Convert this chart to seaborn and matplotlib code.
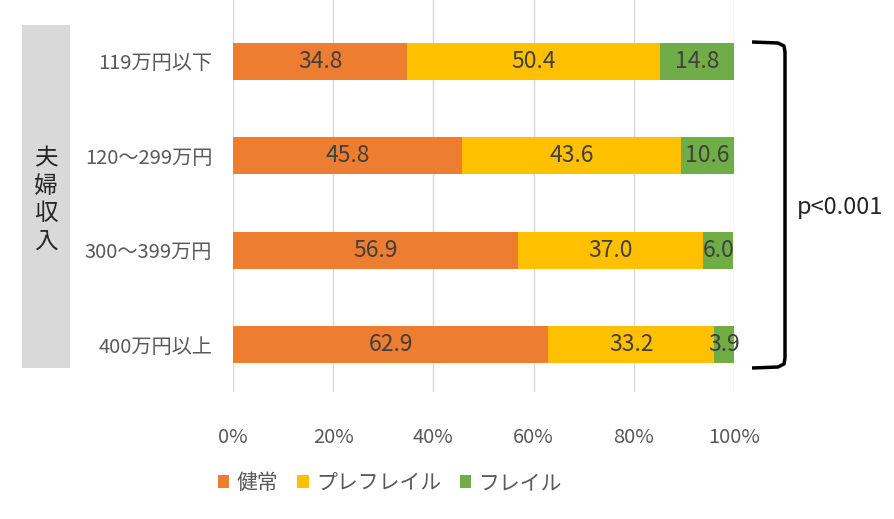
import numpy as np
import pandas as pd
import matplotlib
matplotlib.use("Agg")
import matplotlib.pyplot as plt
import seaborn as sns
from matplotlib.patches import Rectangle, Patch
from matplotlib.lines import Line2D

# データ
categories = ['119万円以下', '120～299万円', '300～399万円', '400万円以上']
kenjo = [34.8, 45.8, 56.9, 62.9]
prefrail = [50.4, 43.6, 37.0, 33.2]
frail = [14.8, 10.6, 6.0, 3.9]
series_names = ['健常', 'プレフレイル', 'フレイル']
colors = ['#ED7D31', '#FFC000', '#70AD47']

sns.set_style('white')
plt.rcParams['font.family'] = ['Noto Sans CJK JP', 'DejaVu Sans']
text_color = '#595959'

df = pd.DataFrame({'cat': categories, 'kenjo': kenjo, 'prefrail': prefrail, 'frail': frail})
df['c1'] = df['kenjo']
df['c2'] = df['kenjo'] + df['prefrail']
df['c3'] = df['c2'] + df['frail']

fig = plt.figure(figsize=(8.95, 5.19), dpi=100)
ax = fig.add_axes([0.2603, 0.2447, 0.5598, 0.7553])

# 積み上げ（後ろから重ねる）
for col, c in zip(['c3', 'c2', 'c1'], colors[::-1]):
    sns.barplot(data=df, x=col, y='cat', order=categories, color=c,
                width=0.39, orient='h', ax=ax, linewidth=0, saturation=1)

# 値ラベル
lefts = [np.zeros(4), np.array(kenjo), np.array(kenjo) + np.array(prefrail)]
vals = [kenjo, prefrail, frail]
for left, v in zip(lefts, vals):
    for i, (l, w) in enumerate(zip(left, v)):
        ax.text(l + w / 2, i, f'{w:.1f}', ha='center', va='center',
                fontsize=16.5, color='#404040')

ax.set_xlim(0, 100)
ax.set_ylim(3.5, -0.65)
ax.set_xticks([0, 20, 40, 60, 80, 100])
ax.set_xticklabels([f'{t}%' for t in [0, 20, 40, 60, 80, 100]])
ax.tick_params(axis='x', labelsize=14.5, colors=text_color, length=0, pad=25)
ax.tick_params(axis='y', labelsize=14.5, colors=text_color, length=0, pad=15)
ax.set_xlabel('')
ax.set_ylabel('')
ax.grid(axis='x', color='#D9D9D9', linewidth=1)
ax.set_axisbelow(True)
for s in ax.spines.values():
    s.set_visible(False)

# 左側のラベル枠
W, H = 895, 519
fig.patches.append(Rectangle((22 / W, 1 - 368 / H), 48 / W, 343 / H,
                             transform=fig.transFigure, facecolor='#D9D9D9',
                             edgecolor='none', zorder=0))
fig.text(46 / W, 1 - 200 / H, '夫\n婦\n収\n入', ha='center', va='center',
         fontsize=17, color='#262626', linespacing=1.25)

# 右側の括弧
bx = [752, 778, 784, 785, 785, 784, 778, 752]
by = [42, 43, 46, 52, 358, 364, 367, 368]
fig.add_artist(Line2D([x / W for x in bx], [1 - y / H for y in by],
                      transform=fig.transFigure, color='black', linewidth=2.5,
                      solid_joinstyle='round', solid_capstyle='butt'))
fig.text(797 / W, 1 - 207 / H, 'p<0.001', ha='left', va='center',
         fontsize=17, color='#262626')

# 凡例
handles = [Patch(facecolor=c, edgecolor='none') for c in colors]
fig.legend(handles, series_names, loc='center', bbox_to_anchor=(390 / W, 1 - 483 / H),
           ncol=3, frameon=False, fontsize=15, handlelength=0.55, handleheight=0.55,
           handletextpad=0.35, columnspacing=0.9, labelcolor=text_color)

fig.savefig('out.png', dpi=100)
